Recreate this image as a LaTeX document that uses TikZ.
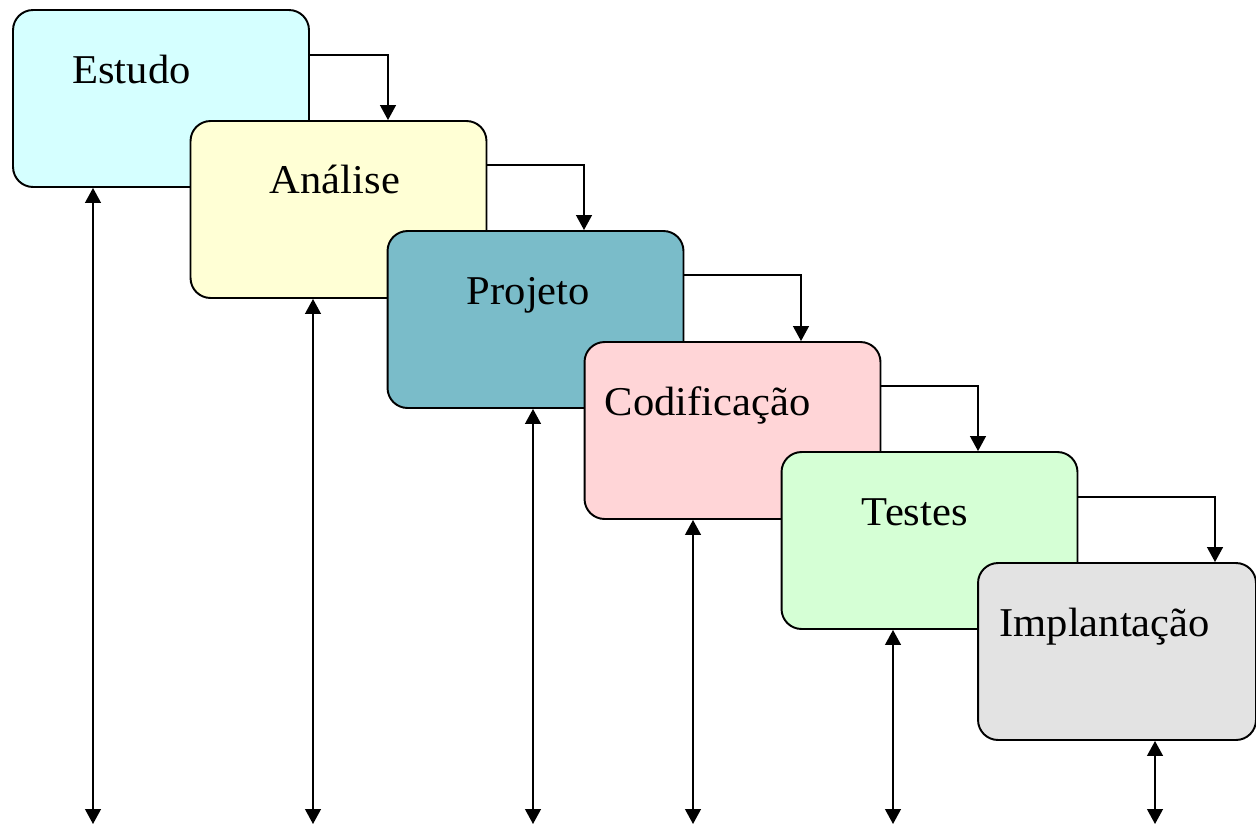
\documentclass[tikz,border=0pt]{standalone}
\usepackage{fontspec}
\setmainfont[FakeStretch=1.04]{Liberation Serif}
\usepackage{tikz}
\usetikzlibrary{positioning}
\usetikzlibrary{arrows.meta}
\usetikzlibrary{calc}

\definecolor{corEstudo}{RGB}{213,255,255}
\definecolor{corAnalise}{RGB}{255,255,213}
\definecolor{corProjeto}{RGB}{122,188,201}
\definecolor{corCodif}{RGB}{255,213,215}
\definecolor{corTestes}{RGB}{213,255,213}
\definecolor{corImplant}{RGB}{227,227,227}

\begin{document}
\begin{tikzpicture}[x=0.02cm, y=-0.02cm,
  fase/.style={draw, line width=1.1pt, rounded corners=0.4cm, minimum width=5.92cm, minimum height=3.54cm, inner sep=0pt},
  rotulo/.style={anchor=base west, inner sep=0pt, font=\fontsize{23.3}{28}\selectfont},
  seta/.style={line width=0.9pt, -{Triangle[length=8.5pt, width=9pt]}},
  dupla/.style={line width=0.9pt, {Triangle[length=8.5pt, width=9pt]}-{Triangle[length=8.5pt, width=9pt]}}]
\useasboundingbox (0,0) rectangle (1256,825);

\node[fase, fill=corEstudo] (estudo) at (161,98.5) {};
\node[fase, fill=corAnalise] (analise) at (338.5,209.5) {};
\node[fase, fill=corProjeto] (projeto) at (535.5,319.5) {};
\node[fase, fill=corCodif] (codif) at (732.5,430.5) {};
\node[fase, fill=corTestes] (testes) at (929.5,540.5) {};
\node[fase, fill=corImplant, minimum width=5.56cm] (implant) at (1117,651.5) {};

\node[rotulo] (tEstudo) at ($(estudo.north west)+(60,74)$) {Estudo};
\node[rotulo] (tAnalise) at ($(analise.north west)+(80,73)$) {Análise};
\node[rotulo] (tProjeto) at ($(projeto.north west)+(80,74)$) {Projeto};
\node[rotulo] (tCodif) at ($(codif.north west)+(21,74)$) {Codificação};
\node[rotulo] (tTestes) at ($(testes.north west)+(81,74)$) {Testes};
\node[rotulo] (tImplant) at ($(implant.north west)+(22,74)$) {Implantação};

% passagem de uma fase para a seguinte
\draw[seta] (estudo.east |- 0,55) -| (388,0 |- analise.north);
\draw[seta] (analise.east |- 0,165) -| (584,0 |- projeto.north);
\draw[seta] (projeto.east |- 0,275) -| (801,0 |- codif.north);
\draw[seta] (codif.east |- 0,386) -| (978,0 |- testes.north);
\draw[seta] (testes.east |- 0,497) -| (1215,0 |- implant.north);

\coordinate (base) at (0,824);

\draw[dupla] (93,0 |- estudo.south) -- (93,0 |- base);
\draw[dupla] (313,0 |- analise.south) -- (313,0 |- base);
\draw[dupla] (533,0 |- projeto.south) -- (533,0 |- base);
\draw[dupla] (693,0 |- codif.south) -- (693,0 |- base);
\draw[dupla] (893,0 |- testes.south) -- (893,0 |- base);
\draw[dupla] (1155,0 |- implant.south) -- (1155,0 |- base);
\end{tikzpicture}
\end{document}
